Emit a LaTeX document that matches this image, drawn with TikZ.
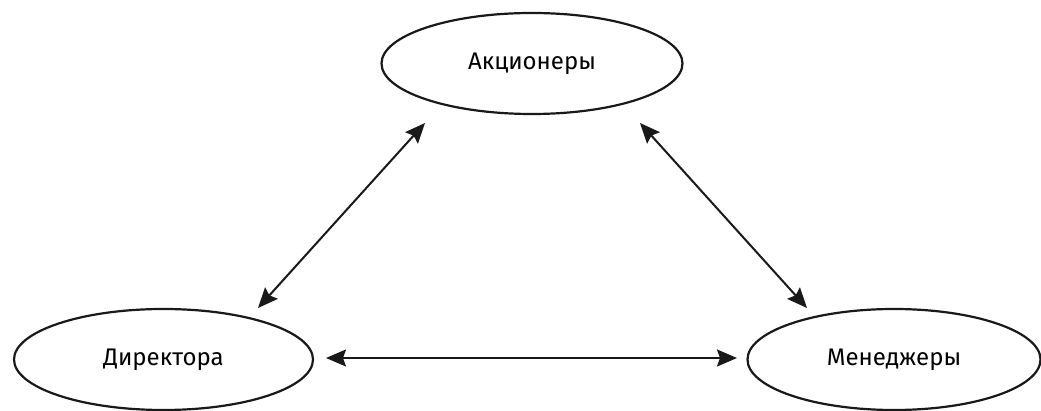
\documentclass[tikz,border=0pt]{standalone}
\usepackage{fontspec}
\setmainfont{Fira Sans}
\usetikzlibrary{shapes.geometric,arrows.meta}
\begin{document}
\begin{tikzpicture}[x=1pt,y=-1pt,
  party/.style={draw=black!90,line width=2.2pt,ellipse,minimum width=#1,minimum height=101pt,inner sep=0pt,font=\fontsize{24}{28}\selectfont},
  link/.style={line width=2pt,draw=black!90,{Stealth[length=20pt,width=17pt,inset=3pt]}-{Stealth[length=20pt,width=17pt,inset=3pt]}}]
  \useasboundingbox (0,0) rectangle (1041,411);
  % the three parties
  \node[party=301pt] (sh) at (532,63.5) {Акционеры};
  \node[party=299pt] (dir) at (163.5,359.5) {Директора};
  \node[party=293pt] (mgr) at (894,359.5) {Менеджеры};
  % arrow end points beside each ellipse
  \coordinate (shL) at (425,123);
  \coordinate (shR) at (640,123);
  \coordinate (dirT) at (258,308);
  \coordinate (dirR) at (326,358);
  \coordinate (mgrT) at (807,308);
  \coordinate (mgrL) at (737,358);
  % two-way relations
  \draw[link] (dirT) -- (shL);
  \draw[link] (shR) -- (mgrT);
  \draw[link] (dirR) -- (mgrL);
\end{tikzpicture}
\end{document}
